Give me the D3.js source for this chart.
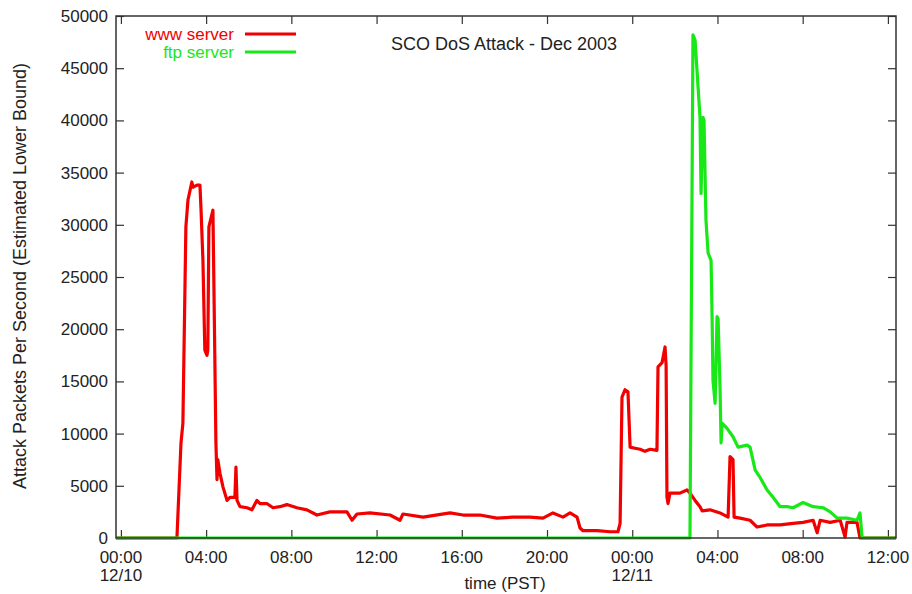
<!DOCTYPE html>
<html>
<head>
<meta charset="utf-8">
<script src="https://cdn.jsdelivr.net/npm/d3@7"></script>
<style>
  body { margin: 0; background: #fff; }
  text { font-family: "Liberation Sans", Arial, sans-serif; }
</style>
</head>
<body>
<div class="chart"></div>
<script>
const width = 912;
const height = 594;

// hours since 12/10 00:00 PST, packets per second
const wwwHours = [-0.23, 2.63, 2.82, 2.91, 3.05, 3.15, 3.33, 3.38, 3.57, 3.71, 3.76, 3.85, 3.94, 4.04, 4.08, 4.13, 4.32, 4.37, 4.46, 4.51, 4.55, 4.65, 4.79, 4.98, 5.12, 5.26, 5.35, 5.40, 5.45, 5.59, 5.92, 6.15, 6.38, 6.53, 6.85, 7.14, 7.46, 7.79, 8.26, 8.73, 9.20, 9.81, 10.61, 10.85, 11.08, 11.69, 12.63, 13.10, 13.24, 14.18, 15.45, 16.06, 16.85, 17.65, 18.40, 19.20, 19.81, 20.28, 20.75, 21.08, 21.41, 21.55, 21.69, 22.35, 22.96, 23.33, 23.43, 23.52, 23.66, 23.80, 23.90, 24.13, 24.37, 24.60, 24.84, 25.16, 25.21, 25.40, 25.54, 25.59, 25.63, 25.68, 25.77, 26.24, 26.57, 26.71, 26.95, 27.18, 27.28, 27.65, 28.12, 28.50, 28.59, 28.73, 28.78, 29.06, 29.53, 29.86, 30.33, 30.94, 31.55, 32.02, 32.49, 32.68, 32.82, 33.29, 33.76, 33.99, 34.08, 34.55, 34.69, 36.38];
const wwwValues = [0, 0, 9100, 11000, 29800, 32400, 34100, 33600, 33800, 33800, 31500, 26600, 18000, 17500, 18000, 29800, 31400, 23500, 9100, 5600, 7500, 6200, 4900, 3600, 3900, 3900, 3900, 6800, 3600, 3000, 2900, 2700, 3600, 3300, 3300, 2900, 3000, 3200, 2900, 2700, 2200, 2500, 2500, 1700, 2300, 2400, 2200, 1700, 2300, 2000, 2400, 2200, 2200, 1900, 2000, 2000, 1900, 2400, 2000, 2400, 2000, 960, 700, 700, 600, 600, 1400, 13500, 14200, 14000, 8700, 8600, 8500, 8300, 8500, 8400, 16400, 16800, 18300, 16500, 3900, 3300, 4300, 4300, 4600, 4300, 3600, 3000, 2600, 2700, 2400, 2000, 7800, 7500, 2000, 1900, 1700, 1050, 1250, 1250, 1400, 1500, 1700, 500, 1700, 1500, 1700, 100, 1500, 1500, 0, 0];

const ftpHours = [-0.23, 26.71, 26.85, 26.95, 27.04, 27.14, 27.18, 27.23, 27.32, 27.37, 27.46, 27.56, 27.70, 27.75, 27.79, 27.89, 27.98, 28.03, 28.12, 28.17, 28.22, 28.45, 28.73, 28.97, 29.39, 29.53, 29.77, 30.00, 30.33, 30.61, 30.94, 31.27, 31.55, 32.02, 32.49, 32.96, 33.29, 33.62, 34.08, 34.55, 34.69, 34.79, 36.38];
const ftpValues = [0, 0, 48200, 47700, 44800, 41600, 40300, 33000, 40300, 40000, 30500, 27300, 26600, 20900, 15100, 12900, 21200, 21000, 14500, 9100, 11000, 10500, 9700, 8700, 8900, 8700, 6500, 5800, 4600, 3900, 3000, 3000, 2900, 3400, 3000, 2900, 2500, 1900, 1900, 1700, 2400, 0, 0];

const yTicks = [0, 5000, 10000, 15000, 20000, 25000, 30000, 35000, 40000, 45000, 50000];

const base = new Date(2003, 11, 10, 0, 0);
const toDate = (h) => new Date(base.getTime() + h * 3600e3);

const series = [
  { name: "www server", color: "#f20000", data: wwwHours.map((h, i) => ({ t: toDate(h), v: wwwValues[i] })) },
  { name: "ftp server", color: "#18e818", data: ftpHours.map((h, i) => ({ t: toDate(h), v: ftpValues[i] })) },
];

const margin = { top: 16, right: 16, bottom: 56, left: 116 };

const x = d3
  .scaleTime()
  .domain(d3.extent(wwwHours).map(toDate))
  .range([margin.left, width - margin.right]);

const y = d3
  .scaleLinear()
  .domain([0, 50000])
  .range([height - margin.bottom, margin.top]);

const svg = d3
  .select(".chart")
  .append("svg")
  .attr("width", width)
  .attr("height", height);

const fontSize = "17px";
const labelSize = "18px";
const xTicks = d3.timeHour.every(4).range(toDate(0), toDate(36.01));

// bottom axis, ticks pointing inward
svg
  .append("g")
  .attr("transform", `translate(0,${y(0)})`)
  .call(d3.axisBottom(x).tickValues(xTicks).tickSize(-8).tickFormat(""));

// top mirror ticks
svg
  .append("g")
  .attr("transform", `translate(0,${margin.top})`)
  .call(d3.axisTop(x).tickValues(xTicks).tickSize(-8).tickFormat(""));

svg
  .append("g")
  .attr("transform", `translate(${margin.left},0)`)
  .call(d3.axisLeft(y).tickValues(yTicks).tickSize(-8).tickFormat(""));

svg
  .append("g")
  .attr("transform", `translate(${width - margin.right},0)`)
  .call(d3.axisRight(y).tickValues(yTicks).tickSize(-8).tickFormat(""));

svg.selectAll(".domain").remove();
svg.selectAll(".tick line").attr("stroke", "#333").attr("stroke-width", 1.2);

// x tick labels, two lines at midnight
const xLab = svg
  .append("g")
  .selectAll("text")
  .data(xTicks)
  .enter()
  .append("text")
  .attr("text-anchor", "middle")
  .attr("font-size", fontSize)
  .attr("fill", "#222");

xLab
  .append("tspan")
  .attr("x", (d) => x(d))
  .attr("y", 563)
  .text((d) => d3.timeFormat("%H:%M")(d));

xLab
  .filter((d) => d.getHours() === 0)
  .append("tspan")
  .attr("x", (d) => x(d))
  .attr("y", 581)
  .text((d) => d3.timeFormat("%m/%d")(d));

// y tick labels
svg
  .append("g")
  .selectAll("text")
  .data(yTicks)
  .enter()
  .append("text")
  .attr("x", 108)
  .attr("y", (d) => y(d) + 6)
  .attr("text-anchor", "end")
  .attr("font-size", fontSize)
  .attr("fill", "#222")
  .text((d) => d);

// plot lines
const line = d3
  .line()
  .x((d) => x(d.t))
  .y((d) => y(d.v));

svg
  .append("g")
  .selectAll("path")
  .data(series)
  .enter()
  .append("path")
  .attr("d", (d) => line(d.data))
  .attr("fill", "none")
  .attr("stroke", (d) => d.color)
  .attr("stroke-width", 3.2)
  .attr("stroke-linejoin", "round");

// frame
svg
  .append("rect")
  .attr("x", margin.left)
  .attr("y", margin.top)
  .attr("width", width - margin.left - margin.right)
  .attr("height", y(0) - margin.top)
  .attr("fill", "none")
  .attr("stroke", "#333")
  .attr("stroke-width", 1.5);

// legend
const legend = svg
  .append("g")
  .selectAll("g")
  .data(series)
  .enter()
  .append("g")
  .attr("transform", (d, i) => `translate(0,${34 + i * 18})`);

legend
  .append("text")
  .attr("x", 234)
  .attr("y", 6)
  .attr("text-anchor", "end")
  .attr("font-size", "17px")
  .attr("fill", (d) => d.color)
  .text((d) => d.name);

legend
  .append("line")
  .attr("x1", 245)
  .attr("x2", 296)
  .attr("stroke", (d) => d.color)
  .attr("stroke-width", 3.2);

// titles
svg
  .append("text")
  .attr("x", 504)
  .attr("y", 50)
  .attr("text-anchor", "middle")
  .attr("font-size", labelSize)
  .attr("fill", "#222")
  .text("SCO DoS Attack - Dec 2003");

svg
  .append("text")
  .attr("x", 505)
  .attr("y", 589)
  .attr("text-anchor", "middle")
  .attr("font-size", fontSize)
  .attr("fill", "#222")
  .text("time (PST)");

svg
  .append("text")
  .attr("transform", `translate(26,${276}) rotate(-90)`)
  .attr("text-anchor", "middle")
  .attr("font-size", labelSize)
  .attr("fill", "#222")
  .text("Attack Packets Per Second (Estimated Lower Bound)");
</script>
</body>
</html>
